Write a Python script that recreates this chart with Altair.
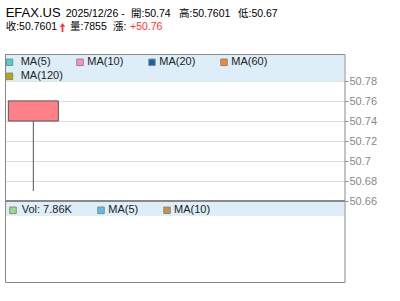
import altair as alt
import pandas as pd

# ---- data ----
symbol = "EFAX.US"
dates = ["2025/12/26"]
slot = [0]
opens = [50.74]
highs = [50.7601]
lows = [50.67]
closes = [50.7601]
volumes = [7855]
change = "+50.76"
price_ticks = [50.66, 50.68, 50.70, 50.72, 50.74, 50.76, 50.78]

ma_labels = ["MA(5)", "MA(10)", "MA(20)", "MA(60)", "MA(120)"]
ma_colors = ["#44D3D3", "#FF8CC6", "#0A64B4", "#FF8426", "#B8A800"]
vol_labels = ["Vol: %.2fK" % (volumes[0] / 1000), "MA(5)", "MA(10)"]
vol_colors = ["#9BDB85", "#55C3F0", "#C8914A"]

FONT = "Liberation Sans, Arial, Noto Sans CJK TC"

df = pd.DataFrame({"date": dates, "slot": slot, "open": opens, "high": highs,
                   "low": lows, "close": closes, "volume": volumes})

one = pd.DataFrame({"a": [0]})

xs = alt.Scale(domain=[-0.5, 5.5], nice=False, zero=False, padding=0)
ys = alt.Scale(domain=[50.579, 50.807], nice=False, zero=False, padding=0)
yaxis = alt.Axis(
    orient="right", values=price_ticks, tickCount=20, format=".2~f", title=None,
    domain=False, ticks=True, tickSize=3, tickColor="#888888",
    labelColor="#888888", labelFont=FONT, labelFontSize=11, labelPadding=1,
    labelOverlap=False, labelBound=False, labelFlush=False,
    grid=True, gridColor="#DDDDDD", gridWidth=1)

layers = []

# legend bands
layers.append(alt.Chart(one).mark_rect(color="#DDEEF8").encode(
    x=alt.value(1), x2=alt.value(339), y=alt.value(1), y2=alt.value(27.5)))
layers.append(alt.Chart(one).mark_rect(color="#DDEEF8").encode(
    x=alt.value(1), x2=alt.value(339), y=alt.value(148), y2=alt.value(162)))

# candle
base = alt.Chart(df)
wick = base.mark_rule(color="#555555", strokeWidth=1).encode(
    x=alt.X("slot:Q", scale=xs, axis=None),
    y=alt.Y("low:Q", scale=ys, axis=yaxis),
    y2="high:Q")
body = base.mark_bar(size=50, color="#FF8088", stroke="#555555", strokeWidth=1).encode(
    x=alt.X("slot:Q", scale=xs, axis=None),
    y=alt.Y("open:Q", scale=ys, axis=yaxis),
    y2="close:Q")
layers += [wick, body]

# borders
layers.append(alt.Chart(one).mark_rect(fill=None, fillOpacity=0, stroke="#888888", strokeWidth=1).encode(
    x=alt.value(0.5), x2=alt.value(340), y=alt.value(0.5), y2=alt.value(228.5)))
layers.append(alt.Chart(one).mark_rule(color="#888888", strokeWidth=2).encode(
    x=alt.value(0.5), x2=alt.value(340), y=alt.value(147)))

# main legend
main_pos = [(4.5, 15.7, 8.3), (75, 82.3, 8.3), (147, 154.3, 8.3), (219, 226.3, 8.3), (4.5, 15.7, 22.3)]
for lab, col, (sx, tx, yy) in zip(ma_labels, ma_colors, main_pos):
    layers.append(alt.Chart(one).mark_square(size=42, fill=col, fillOpacity=1, stroke="#888888", strokeWidth=1).encode(
        x=alt.value(sx), y=alt.value(yy)))
    layers.append(alt.Chart(one).mark_text(align="left", baseline="middle", font=FONT, fontSize=11, color="#222222").encode(
        x=alt.value(tx), y=alt.value(yy), text=alt.value(lab)))

# volume legend
vol_pos = [(8, 16.7), (96, 103.3), (162, 169)]
for lab, col, (sx, tx) in zip(vol_labels, vol_colors, vol_pos):
    layers.append(alt.Chart(one).mark_square(size=42, fill=col, fillOpacity=1, stroke="#888888", strokeWidth=1).encode(
        x=alt.value(sx), y=alt.value(156.3)))
    layers.append(alt.Chart(one).mark_text(align="left", baseline="middle", font=FONT, fontSize=11, color="#222222").encode(
        x=alt.value(tx), y=alt.value(156.3), text=alt.value(lab)))

# header
def txt(s, x, y, size=10.5, color="#000000"):
    return alt.Chart(one).mark_text(align="left", baseline="alphabetic", font=FONT,
                                    fontSize=size, color=color).encode(
        x=alt.value(x), y=alt.value(y), text=alt.value(s))

layers.append(txt(symbol, 0.7, -36.7, size=13))
layers.append(txt(dates[0] + " -", 60.7, -36.7))
layers.append(txt("開:%.2f" % opens[0], 126, -36.7))
layers.append(txt("高:%.4f" % highs[0], 174, -36.7))
layers.append(txt("低:%.2f" % lows[0], 233, -36.7))
layers.append(txt("收:%.4f" % closes[0], 0.7, -24))
layers.append(txt("量:%d" % volumes[0], 65, -24))
layers.append(txt("漲:", 108, -24))
layers.append(txt(change, 125, -24, color="#FF3333"))
arrow = "M0,-1L0.6,-0.15L0.2,-0.15L0.2,1L-0.2,1L-0.2,-0.15L-0.6,-0.15Z"
layers.append(alt.Chart(one).mark_point(shape=arrow, size=81, filled=True, color="#FF3333", opacity=1).encode(
    x=alt.value(57.5), y=alt.value(-26.5)))

chart = alt.layer(*layers).properties(
    width=340, height=228,
    padding={"left": 5, "top": 54, "right": 55, "bottom": 19},
    autosize=alt.AutoSizeParams(type="none"),
).configure_view(stroke=None)

chart.save("out.html", embed_options={"renderer": "svg", "actions": False})
